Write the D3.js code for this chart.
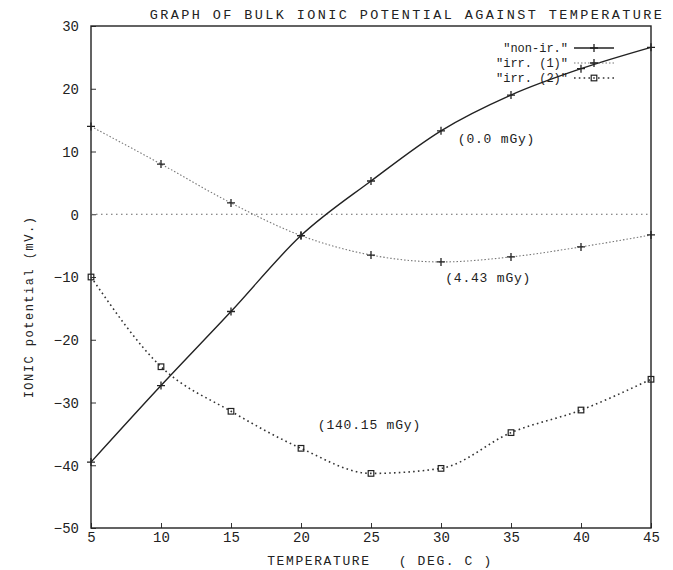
<!DOCTYPE html>
<html>
<head>
<meta charset="utf-8">
<script src="https://cdn.jsdelivr.net/npm/d3@7"></script>
<style>
  body { margin: 0; background: #fff; }
  text { font-family: "Liberation Mono", "DejaVu Sans Mono", monospace; fill: #222; white-space: pre; }
</style>
</head>
<body>
<div class="main"></div>
<script>
const w = 673;
const h = 570;

// temperature (deg C)
const temps = [5, 10, 15, 20, 25, 30, 35, 40, 45];
// ionic potential (mV)
const nonIr = [-39.5, -27.3, -15.5, -3.4, 5.3, 13.3, 19.0, 23.2, 26.6];
const irr1 = [14.0, 8.0, 1.8, -3.4, -6.5, -7.6, -6.8, -5.2, -3.3];
const irr2 = [-10.0, -24.3, -31.4, -37.3, -41.3, -40.5, -34.8, -31.2, -26.3];

const xTicks = [5, 10, 15, 20, 25, 30, 35, 40, 45];
const yTicks = [30, 20, 10, 0, -10, -20, -30, -40, -50];
const seriesNames = ['"non-ir."', '"irr. (1)"', '"irr. (2)"'];
const doseLabels = ['(0.0 mGy)', '(4.43 mGy)', '(140.15 mGy)'];

const svg = d3.select('.main').append('svg').attr('width', w).attr('height', h);

const x = d3.scaleLinear().domain([5, 45]).range([91, 651]);
const y = d3.scaleLinear().domain([-50, 30]).range([528, 26]);

// axes with small inward ticks
const xAxis = d3.axisBottom(x).tickValues(xTicks).tickSizeInner(-5).tickSizeOuter(0).tickPadding(4);
const yAxis = d3.axisLeft(y).tickValues(yTicks).tickSizeInner(-5).tickSizeOuter(0).tickPadding(12);

const gx = svg.append('g').attr('transform', 'translate(0,' + y(-50) + ')').call(xAxis);
const gy = svg.append('g').attr('transform', 'translate(' + x(5) + ',0)').call(yAxis);
[gx, gy].forEach(function (g) {
  g.select('.domain').remove();
  g.selectAll('line').attr('stroke', '#333').attr('stroke-width', 1);
  g.selectAll('text').attr('font-size', 14).attr('fill', '#222')
    .attr('font-family', '"Liberation Mono", monospace');
});
gy.selectAll('.tick text').attr('dy', '0.35em');

// frame
svg.append('rect')
  .attr('x', x(5)).attr('y', y(30))
  .attr('width', x(45) - x(5)).attr('height', y(-50) - y(30))
  .attr('fill', 'none').attr('stroke', '#222').attr('stroke-width', 1.4);

// zero reference line
svg.append('line')
  .attr('x1', x(5)).attr('x2', x(45)).attr('y1', y(0)).attr('y2', y(0))
  .attr('stroke', '#666').attr('stroke-width', 1).attr('stroke-dasharray', '1.5,3.5');

const line = d3.line().curve(d3.curveMonotoneX);

function pts(vals) {
  return temps.map(function (t, i) { return [x(t), y(vals[i])]; });
}

const styles = [
  { vals: nonIr, stroke: '#222', width: 1.4, dash: null, marker: 'plus' },
  { vals: irr1, stroke: '#777', width: 1.1, dash: '1.5,2', marker: 'plus' },
  { vals: irr2, stroke: '#333', width: 1.6, dash: '1.6,3.2', marker: 'square' }
];

function drawMarker(g, type, cx, cy) {
  if (type === 'plus') {
    g.append('path')
      .attr('d', 'M' + (cx - 4) + ',' + cy + 'H' + (cx + 4) + 'M' + cx + ',' + (cy - 4) + 'V' + (cy + 4))
      .attr('stroke', '#222').attr('stroke-width', 1.3).attr('fill', 'none');
  } else {
    g.append('rect')
      .attr('x', cx - 2.8).attr('y', cy - 2.8).attr('width', 5.6).attr('height', 5.6)
      .attr('fill', 'none').attr('stroke', '#222').attr('stroke-width', 1.2);
  }
}

styles.forEach(function (s) {
  const g = svg.append('g');
  g.append('path')
    .attr('d', line(pts(s.vals)))
    .attr('fill', 'none')
    .attr('stroke', s.stroke)
    .attr('stroke-width', s.width)
    .attr('stroke-dasharray', s.dash);
  pts(s.vals).forEach(function (p) { drawMarker(g, s.marker, p[0], p[1]); });
});

// legend
const legend = svg.append('g');
seriesNames.forEach(function (name, i) {
  const ly = 48 + i * 15;
  legend.append('text')
    .attr('x', 568).attr('y', ly).attr('dy', '0.35em')
    .attr('text-anchor', 'end').attr('font-size', 12)
    .text(name);
  legend.append('line')
    .attr('x1', 574).attr('x2', 614).attr('y1', ly).attr('y2', ly)
    .attr('stroke', styles[i].stroke).attr('stroke-width', styles[i].width)
    .attr('stroke-dasharray', styles[i].dash);
  drawMarker(legend, styles[i].marker, 594, ly);
});

// dose annotations
const annot = [[31.2, 11.3], [30.3, -10.8], [21.2, -34.2]];
doseLabels.forEach(function (t, i) {
  svg.append('text')
    .attr('x', x(annot[i][0])).attr('y', y(annot[i][1]))
    .attr('font-size', 13).attr('letter-spacing', 0.8)
    .text(t);
});

// titles
svg.append('text')
  .attr('x', 407).attr('y', 19)
  .attr('text-anchor', 'middle').attr('font-size', 13.5).attr('letter-spacing', 2.4)
  .text('GRAPH OF BULK IONIC POTENTIAL AGAINST TEMPERATURE');

svg.append('text')
  .attr('x', 380).attr('y', 565)
  .attr('text-anchor', 'middle').attr('font-size', 13).attr('letter-spacing', 1.6)
  .text('TEMPERATURE   ( DEG. C )');

svg.append('text')
  .attr('transform', 'translate(33,' + 307 + ') rotate(-90)')
  .attr('text-anchor', 'middle').attr('font-size', 12).attr('letter-spacing', 1.5)
  .text('IONIC potential (mV.)');
</script>
</body>
</html>
